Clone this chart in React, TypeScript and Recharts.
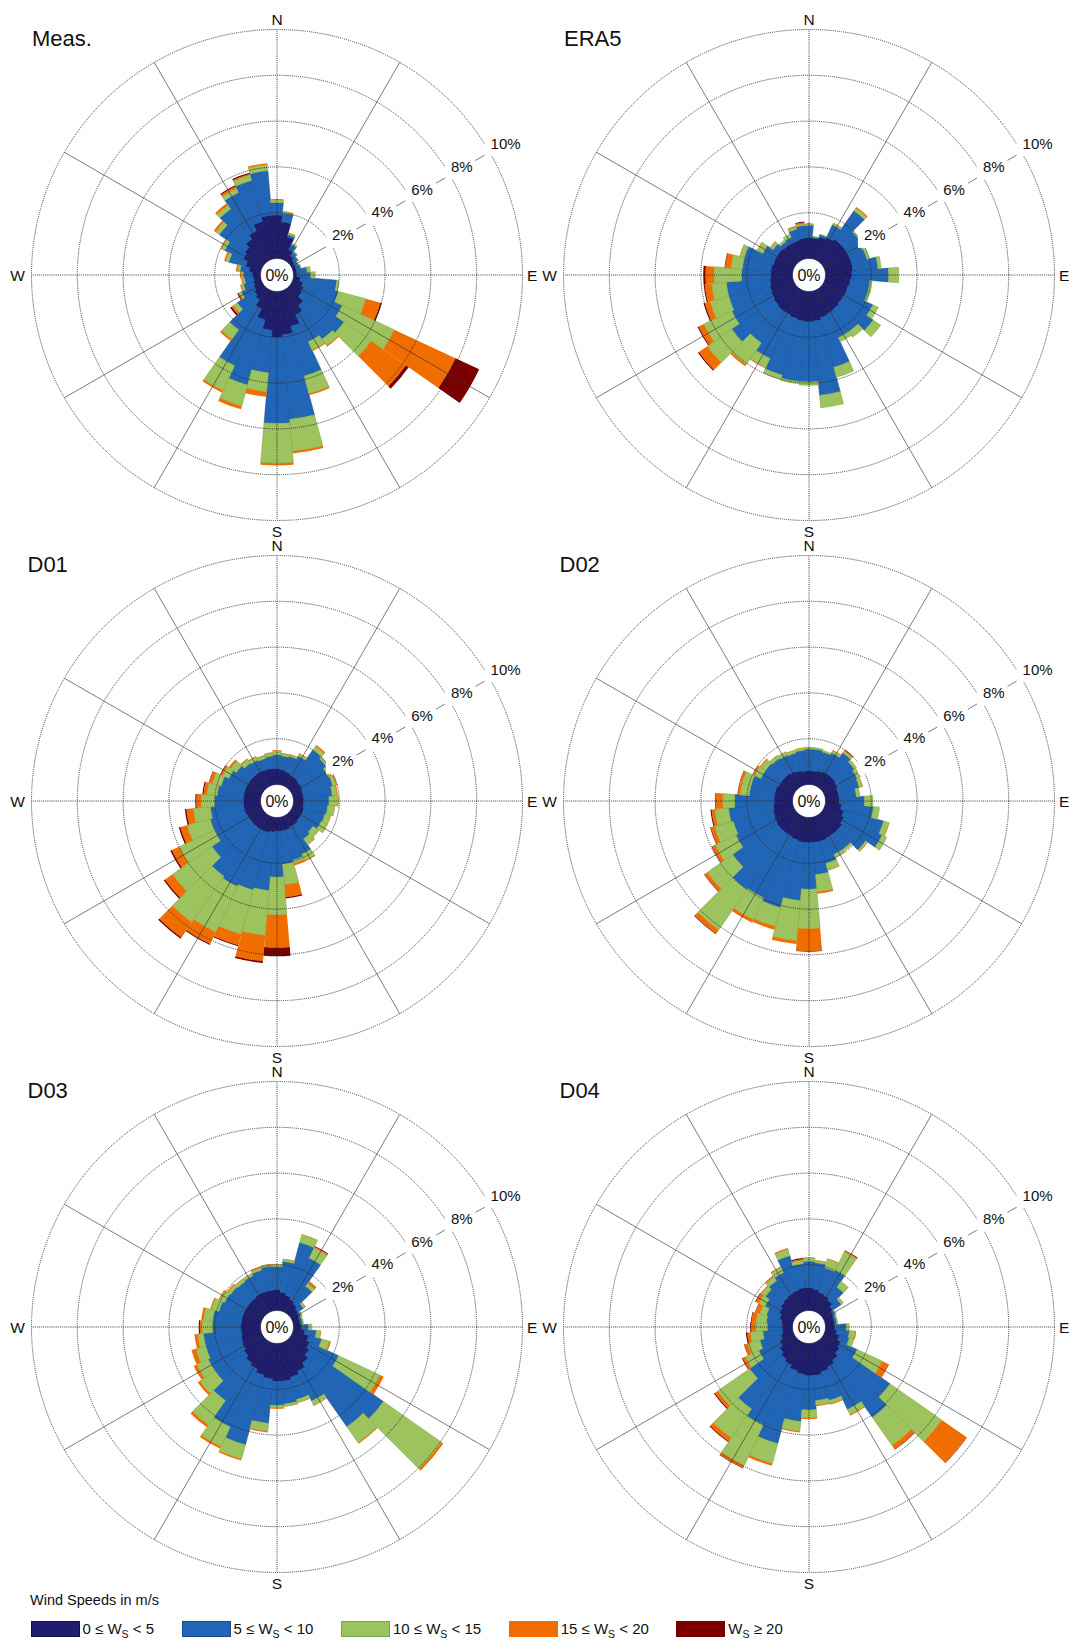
import React from 'react';
import { RadialBarChart, RadialBar, PolarAngleAxis, PolarRadiusAxis, PolarGrid } from 'recharts';

// ---------- categories ----------
const DIRECTIONS = [0, 10, 20, 30, 40, 50, 60, 70, 80, 90, 100, 110, 120, 130, 140, 150, 160, 170,
  180, 190, 200, 210, 220, 230, 240, 250, 260, 270, 280, 290, 300, 310, 320, 330, 340, 350];
const COMPASS_TICKS = [0, 90, 180, 270];
const COMPASS_LABELS: Record<number, string> = { 0: 'N', 90: 'E', 180: 'S', 270: 'W' };
const RING_TICKS = [2, 4, 6, 8, 10];
const SPOKE_BEARINGS = [30, 60, 120, 150, 210, 240, 300, 330];

// ---------- series values (frequency in % per direction bin) ----------
const MEAS_0_5 = [1.9, 1.6, 1.0, 0.5, 0.3, 0.2, 0.15, 0.15, 0.15, 0.15, 0.3, 0.45, 0.55, 0.6, 0.9, 1.2, 1.6, 1.9, 2.0, 1.7, 1.3, 0.9, 0.6, 0.5, 0.4, 0.35, 0.3, 0.35, 0.5, 0.7, 0.9, 1.0, 1.2, 1.4, 1.7, 1.9];
const MEAS_5_10 = [0.55, 0.4, 0.1, 0.25, 0.2, 0.2, 0.15, 0.2, 0.45, 0.6, 1.6, 1.6, 1.87, 2.25, 1.8, 1.3, 2.25, 3.7, 3.76, 1.86, 2.95, 2.75, 1.6, 0.9, 0.6, 0.45, 0.4, 0.4, 0.4, 0.75, 0.9, 1.35, 1.6, 1.85, 1.85, 1.95];
const MEAS_10_15 = [0.1, 0.05, 0.05, 0.05, 0.05, 0.02, 0.02, 0.03, 0.15, 0.2, 0.1, 1.25, 2.51, 1.45, 0.35, 0.4, 0.8, 1.4, 1.74, 0.84, 0.95, 1.2, 0.5, 0.2, 0.1, 0.1, 0.1, 0.1, 0.1, 0.15, 0.15, 0.2, 0.2, 0.2, 0.25, 0.27];
const MEAS_15_20 = [0.05, 0.03, 0.05, 0.02, 0, 0, 0, 0, 0, 0, 0, 0.65, 2.95, 1.85, 0.05, 0.05, 0.07, 0.1, 0.1, 0.22, 0.15, 0.1, 0.1, 0.1, 0.05, 0.05, 0.05, 0.05, 0.08, 0.07, 0.05, 0.1, 0.1, 0.1, 0.05, 0.06];
const MEAS_20P = [0, 0, 0, 0, 0, 0, 0, 0, 0, 0, 0, 0.07, 1.14, 0.15, 0, 0, 0, 0, 0, 0, 0, 0, 0, 0.08, 0.05, 0, 0, 0, 0, 0, 0, 0, 0, 0.05, 0.05, 0];

const ERA5_0_5 = [0.9, 0.9, 1.0, 1.1, 1.2, 1.2, 1.2, 1.2, 1.2, 1.15, 1.1, 1.05, 1.05, 1.05, 1.1, 1.15, 1.2, 1.3, 1.32, 1.3, 1.25, 1.2, 1.2, 1.15, 1.1, 1.05, 1.0, 0.95, 0.95, 0.9, 0.9, 0.9, 0.85, 0.85, 0.85, 0.9];
const ERA5_5_10 = [0.55, 0.05, 0.1, 0.6, 1.5, 0.75, 0.65, 0.7, 1.1, 1.6, 0.85, 0.9, 1.3, 1.65, 1.2, 1.15, 2.25, 3.25, 2.63, 2.65, 2.55, 2.1, 1.7, 2.25, 1.9, 1.85, 1.9, 1.28, 1.25, 1.3, 0.6, 0.3, 0.2, 0.25, 0.5, 0.55];
const ERA5_10_15 = [0.05, 0.03, 0.02, 0.07, 0.15, 0.05, 0.1, 0.1, 0.15, 0.45, 0.1, 0.1, 0.27, 0.4, 0.3, 0.2, 0.45, 0.55, 0.15, 0.1, 0.2, 0.45, 1.15, 1.3, 1.35, 0.85, 0.65, 1.2, 0.5, 0.2, 0.28, 0.15, 0.1, 0.15, 0.1, 0.07];
const ERA5_15_20 = [0.02, 0, 0, 0.03, 0.05, 0, 0, 0, 0, 0, 0, 0, 0, 0, 0, 0, 0, 0, 0, 0, 0, 0.03, 0.1, 0.45, 0.25, 0.25, 0.3, 0.37, 0.25, 0.02, 0.02, 0.02, 0, 0, 0.03, 0.06];
const ERA5_20P = [0, 0, 0, 0, 0, 0, 0, 0, 0, 0, 0, 0, 0, 0, 0, 0, 0, 0, 0, 0, 0, 0, 0, 0.05, 0.05, 0.05, 0.05, 0.1, 0.03, 0, 0, 0, 0, 0, 0.02, 0.04];

const D01_0_5 = [0.7, 0.65, 0.6, 0.55, 0.55, 0.5, 0.5, 0.45, 0.45, 0.45, 0.45, 0.5, 0.5, 0.5, 0.55, 0.55, 0.6, 0.6, 0.6, 0.65, 0.7, 0.7, 0.7, 0.7, 0.7, 0.75, 0.75, 0.75, 0.75, 0.75, 0.75, 0.75, 0.75, 0.75, 0.72, 0.7];
const D01_5_10 = [0.6, 0.6, 0.7, 0.9, 1.45, 1.4, 1.25, 1.35, 1.25, 1.1, 1.05, 0.95, 0.9, 0.7, 0.75, 1.3, 1.35, 1.45, 2.0, 2.55, 2.6, 2.7, 2.6, 2.05, 1.6, 1.55, 1.45, 1.25, 1.15, 1.05, 0.85, 0.7, 0.55, 0.5, 0.48, 0.55];
const D01_10_15 = [0.15, 0.1, 0.08, 0.1, 0.2, 0.1, 0.1, 0.15, 0.2, 0.4, 0.3, 0.25, 0.3, 0.3, 0.3, 0.3, 0.15, 0.9, 1.65, 1.97, 2.0, 2.2, 2.45, 2.1, 1.7, 1.05, 0.75, 0.6, 0.45, 0.4, 0.3, 0.3, 0.2, 0.15, 0.12, 0.13];
const D01_15_20 = [0.05, 0.03, 0.02, 0.03, 0.07, 0.02, 0.05, 0.05, 0.05, 0.02, 0.02, 0.02, 0.02, 0.02, 0.02, 0.05, 0.1, 0.55, 1.43, 1.13, 0.5, 0.57, 0.8, 0.4, 0.35, 0.3, 0.3, 0.2, 0.15, 0.15, 0.1, 0.1, 0.05, 0.05, 0.04, 0.04];
const D01_20P = [0, 0, 0, 0, 0, 0, 0, 0, 0, 0, 0, 0, 0, 0, 0, 0, 0, 0.05, 0.38, 0.08, 0.05, 0.05, 0.07, 0.07, 0.07, 0.07, 0.07, 0.05, 0.05, 0.02, 0.02, 0, 0, 0, 0, 0];

const D02_0_5 = [0.6, 0.6, 0.65, 0.7, 0.7, 0.7, 0.65, 0.6, 0.6, 0.6, 0.7, 0.85, 0.95, 1.05, 1.05, 1.05, 1.1, 1.1, 1.1, 1.1, 1.05, 1.0, 1.0, 1.0, 0.95, 0.9, 0.85, 0.8, 0.8, 0.8, 0.75, 0.75, 0.75, 0.7, 0.65, 0.6];
const D02_5_10 = [0.95, 0.95, 0.85, 0.9, 1.15, 1.0, 0.95, 0.95, 0.75, 1.1, 1.4, 1.8, 1.85, 1.25, 0.8, 0.8, 1.0, 1.4, 2.03, 2.54, 3.05, 2.95, 3.0, 2.35, 1.85, 1.8, 1.95, 1.73, 1.1, 1.1, 0.85, 0.85, 0.8, 0.8, 0.8, 0.9];
const D02_10_15 = [0.07, 0.07, 0.07, 0.1, 0.1, 0.1, 0.15, 0.15, 0.15, 0.37, 0.27, 0.25, 0.23, 0.1, 0.1, 0.15, 0.3, 0.76, 1.73, 1.76, 0.85, 1.05, 2.15, 1.35, 1.0, 0.85, 0.6, 0.52, 0.4, 0.4, 0.3, 0.25, 0.15, 0.15, 0.13, 0.1];
const D02_15_20 = [0.02, 0.01, 0, 0.04, 0.05, 0.02, 0.02, 0.02, 0.02, 0, 0, 0.02, 0, 0.02, 0, 0, 0.02, 0.09, 0.97, 0.15, 0.15, 0.15, 0.2, 0.15, 0.15, 0.17, 0.15, 0.3, 0.1, 0.1, 0.1, 0.05, 0.02, 0.02, 0.02, 0.02];
const D02_20P = [0, 0, 0, 0, 0.02, 0, 0, 0, 0, 0, 0, 0, 0, 0, 0, 0, 0, 0, 0.03, 0, 0, 0, 0.03, 0.03, 0.03, 0.03, 0.05, 0.03, 0.02, 0.02, 0, 0, 0, 0, 0, 0];

const D03_0_5 = [0.9, 0.8, 0.7, 0.6, 0.5, 0.4, 0.35, 0.3, 0.3, 0.35, 0.5, 0.7, 0.85, 1.0, 1.2, 1.4, 1.55, 1.65, 1.65, 1.55, 1.45, 1.3, 1.2, 1.05, 0.95, 0.9, 0.85, 0.85, 0.85, 0.85, 0.85, 0.85, 0.85, 0.9, 0.9, 0.9];
const D03_5_10 = [1.02, 1.35, 2.4, 2.0, 0.95, 0.3, 0.1, 0.1, 0.1, 0.3, 0.5, 0.6, 1.4, 3.95, 3.4, 1.45, 1.0, 1.0, 1.05, 1.95, 3.15, 2.8, 2.0, 1.55, 1.65, 1.6, 1.65, 1.25, 1.25, 1.05, 0.95, 0.9, 0.85, 0.85, 0.95, 1.05];
const D03_10_15 = [0.08, 0.1, 0.35, 0.5, 0.15, 0.1, 0.05, 0.05, 0.05, 0.15, 0.2, 0.35, 1.99, 3.1, 0.85, 0.2, 0.15, 0.1, 0.1, 0.35, 0.65, 0.95, 1.3, 0.8, 0.55, 0.45, 0.25, 0.45, 0.4, 0.35, 0.25, 0.15, 0.15, 0.1, 0.1, 0.07];
const D03_15_20 = [0.02, 0.02, 0.02, 0.05, 0.1, 0.02, 0, 0, 0, 0, 0.02, 0.07, 0.18, 0.1, 0.05, 0.03, 0.02, 0.02, 0.05, 0.05, 0.07, 0.1, 0.12, 0.1, 0.15, 0.2, 0.15, 0.1, 0.1, 0.05, 0.05, 0.05, 0.02, 0.02, 0.05, 0.03];
const D03_20P = [0, 0, 0, 0.03, 0.02, 0, 0, 0, 0, 0, 0, 0, 0, 0, 0, 0, 0, 0, 0, 0, 0, 0, 0, 0, 0, 0, 0, 0.05, 0, 0, 0, 0, 0, 0, 0, 0];

const D04_0_5 = [1.0, 0.95, 0.85, 0.8, 0.7, 0.55, 0.45, 0.4, 0.4, 0.4, 0.5, 0.65, 0.8, 0.9, 1.05, 1.2, 1.3, 1.4, 1.4, 1.35, 1.25, 1.1, 1.0, 0.85, 0.7, 0.55, 0.45, 0.45, 0.5, 0.6, 0.7, 0.8, 0.85, 0.9, 0.95, 1.0];
const D04_5_10 = [1.15, 1.15, 1.1, 1.2, 0.7, 0.45, 0.1, 0.1, 0.1, 0.5, 0.55, 0.45, 0.8, 2.7, 3.05, 2.05, 1.3, 1.1, 1.5, 2.07, 3.3, 2.9, 2.65, 1.6, 1.0, 0.95, 0.85, 0.65, 0.65, 0.6, 0.7, 0.8, 0.9, 1.0, 1.55, 1.05];
const D04_10_15 = [0.15, 0.1, 0.4, 0.9, 0.3, 0.1, 0.05, 0.05, 0.05, 0.12, 0.25, 0.2, 1.2, 2.76, 1.5, 0.25, 0.15, 0.2, 0.35, 0.43, 0.9, 1.95, 1.55, 1.7, 0.65, 0.55, 0.55, 0.5, 0.45, 0.3, 0.3, 0.2, 0.2, 0.25, 0.3, 0.15];
const D04_15_20 = [0.02, 0.02, 0.03, 0.05, 0.02, 0.02, 0, 0, 0, 0.02, 0.05, 0.02, 0.32, 1.32, 0.2, 0.05, 0.05, 0.05, 0.05, 0.05, 0.1, 0.12, 0.18, 0.15, 0.13, 0.15, 0.15, 0.2, 0.2, 0.2, 0.15, 0.05, 0.05, 0.05, 0.05, 0.05];
const D04_20P = [0, 0, 0, 0.03, 0, 0, 0, 0, 0, 0, 0, 0, 0.02, 0.02, 0.02, 0, 0, 0, 0, 0, 0, 0.03, 0.04, 0.05, 0.04, 0.02, 0.05, 0.05, 0.03, 0.02, 0.03, 0, 0, 0, 0, 0.05];

// ---------- speed classes (legend + colours) ----------
const SPEED_CLASSES = [
  { key: 'c0', pre: '0 \u2264 W', post: ' < 5', fill: '#1f1d6d', stroke: '#121048' },
  { key: 'c1', pre: '5 \u2264 W', post: ' < 10', fill: '#2166b6', stroke: '#174c8c' },
  { key: 'c2', pre: '10 \u2264 W', post: ' < 15', fill: '#9cc35e', stroke: '#79a645' },
  { key: 'c3', pre: '15 \u2264 W', post: ' < 20', fill: '#f06d00', stroke: 'none' },
  { key: 'c4', pre: 'W', post: ' \u2265 20', fill: '#7a0000', stroke: 'none' },
];

const ROSES = [
  { title: 'Meas.', cx: 277, cy: 275, top: true, series: [MEAS_0_5, MEAS_5_10, MEAS_10_15, MEAS_15_20, MEAS_20P] },
  { title: 'ERA5', cx: 809, cy: 275, top: true, series: [ERA5_0_5, ERA5_5_10, ERA5_10_15, ERA5_15_20, ERA5_20P] },
  { title: 'D01', cx: 277, cy: 801, top: false, series: [D01_0_5, D01_5_10, D01_10_15, D01_15_20, D01_20P] },
  { title: 'D02', cx: 809, cy: 801, top: false, series: [D02_0_5, D02_5_10, D02_10_15, D02_15_20, D02_20P] },
  { title: 'D03', cx: 277, cy: 1327, top: false, series: [D03_0_5, D03_5_10, D03_10_15, D03_15_20, D03_20P] },
  { title: 'D04', cx: 809, cy: 1327, top: false, series: [D04_0_5, D04_5_10, D04_10_15, D04_15_20, D04_20P] },
];

// ---------- geometry ----------
const BOX = 560;
const C = 280;
const R_IN = 16.5;
const R_OUT = 245.5;
const NO_MARGIN = { top: 0, right: 0, bottom: 0, left: 0 };
const FONT = "'Liberation Sans', Arial, Helvetica, sans-serif";

function CompassTick(props: any) {
  const { x, y, payload } = props;
  const v = payload.value;
  const label = COMPASS_LABELS[v];
  if (!label) return null;
  let tx = x;
  let ty = y;
  let anchor: 'start' | 'middle' | 'end' = 'middle';
  if (v === 0) { ty = y + 3.5; }
  else if (v === 180) { ty = y + 8; }
  else if (v === 90) { tx = x - 3.5; ty = y + 5.5; anchor = 'start'; }
  else { tx = x + 1.5; ty = y + 5.5; anchor = 'end'; }
  return (
    <text x={tx} y={ty} textAnchor={anchor} fontSize={15.5} fill="#111" fontFamily={FONT}>
      {label}
    </text>
  );
}

function RingTick(props: any) {
  const { x, y, payload } = props;
  const label = `${payload.value}%`;
  const w = (label.length - 1) * 8.34 + 13.34;
  return (
    <g>
      <rect x={x - 5} y={y - 15} width={w + 9} height={19} fill="#ffffff" />
      <text x={x + 1} y={y - 3.5} fontSize={15} fill="#111" fontFamily={FONT}>
        {label}
      </text>
    </g>
  );
}

function Rose({ rose }: { rose: any }) {
  const data = DIRECTIONS.map((d, i) => {
    const row: any = { dir: d };
    SPEED_CLASSES.forEach((c, k) => {
      row[c.key] = rose.series[k][i];
    });
    return row;
  });
  const titleX = rose.top ? C - 245 : C - 249.5;
  const spokeAngles = SPOKE_BEARINGS.map((b) => 90 - b);
  return (
    <div style={{ position: 'absolute', left: rose.cx - C, top: rose.cy - C, width: BOX, height: BOX }}>
      <div style={{ position: 'absolute', left: 0, top: 0 }}>
        <RadialBarChart
          width={BOX}
          height={BOX}
          data={data}
          layout="centric"
          cx={C}
          cy={C}
          innerRadius={R_IN}
          outerRadius={R_OUT}
          startAngle={85}
          endAngle={-275}
          barCategoryGap={0}
          barGap={0}
          margin={NO_MARGIN}
        >
          <PolarAngleAxis type="category" dataKey="dir" tick={false} axisLine={false} tickLine={false} />
          <PolarRadiusAxis type="number" domain={[0, 10]} tick={false} axisLine={false} tickLine={false} />
          {SPEED_CLASSES.map((c) => (
            <RadialBar
              key={c.key}
              dataKey={c.key}
              stackId="ws"
              fill={c.fill}
              stroke={c.stroke}
              strokeWidth={c.stroke === 'none' ? 0 : 0.5}
              isAnimationActive={false}
            />
          ))}
        </RadialBarChart>
      </div>
      <div style={{ position: 'absolute', left: 0, top: 0 }}>
        <RadialBarChart
          width={BOX}
          height={BOX}
          data={data}
          layout="centric"
          cx={C}
          cy={C}
          innerRadius={R_IN}
          outerRadius={R_OUT}
          startAngle={90}
          endAngle={-270}
          margin={NO_MARGIN}
        >
          <PolarGrid gridType="circle" stroke="#222222" strokeWidth={0.9} strokeDasharray="1 1.1" />
          <PolarGrid gridType="circle" polarRadius={[]} polarAngles={spokeAngles} stroke="#333333" strokeWidth={0.65} />
          <PolarAngleAxis
            type="number"
            dataKey="dir"
            domain={[0, 360]}
            allowDataOverflow
            ticks={COMPASS_TICKS}
            tick={(p: any) => <CompassTick {...p} />}
            tickSize={8}
            axisLine={false}
            tickLine={false}
          />
          <PolarRadiusAxis
            type="number"
            domain={[0, 10]}
            allowDataOverflow
            ticks={RING_TICKS}
            angle={30}
            axisLine={false}
            tickLine={false}
            tick={(p: any) => <RingTick {...p} />}
          />
        </RadialBarChart>
      </div>
      <svg width={BOX} height={BOX} style={{ position: 'absolute', left: 0, top: 0, pointerEvents: 'none' }}>
        <text x={titleX} y={C - 229} fontSize={22} fill="#111" fontFamily={FONT}>
          {rose.title}
        </text>
        <text x={C} y={C + 5.5} textAnchor="middle" fontSize={16} fill="#111" fontFamily={FONT}>
          0%
        </text>
      </svg>
    </div>
  );
}

export default function App() {
  return (
    <div
      style={{
        position: 'absolute',
        left: 0,
        top: 0,
        width: 1073,
        height: 1641,
        background: '#ffffff',
        overflow: 'hidden',
        fontFamily: FONT,
        color: '#111',
      }}
    >
      {ROSES.map((r) => (
        <Rose key={r.title} rose={r} />
      ))}
      <div style={{ position: 'absolute', left: 30, top: 1592.5, fontSize: 14.5, lineHeight: '15px', whiteSpace: 'nowrap' }}>
        Wind Speeds in m/s
      </div>
      <div style={{ position: 'absolute', left: 30.5, top: 1621, display: 'flex', alignItems: 'flex-start' }}>
        {SPEED_CLASSES.map((c) => (
          <div key={c.key} style={{ display: 'flex', alignItems: 'flex-start', marginRight: 27.5 }}>
            <div
              style={{
                width: 47,
                height: 14,
                background: c.fill,
                border: `1px solid ${c.stroke === 'none' ? c.fill : c.stroke}`,
              }}
            />
            <div style={{ marginLeft: 3, fontSize: 15, lineHeight: '15px', whiteSpace: 'nowrap' }}>
              {c.pre}
              <span style={{ fontSize: 10.5, position: 'relative', top: 4 }}>S</span>
              {c.post}
            </div>
          </div>
        ))}
      </div>
    </div>
  );
}
